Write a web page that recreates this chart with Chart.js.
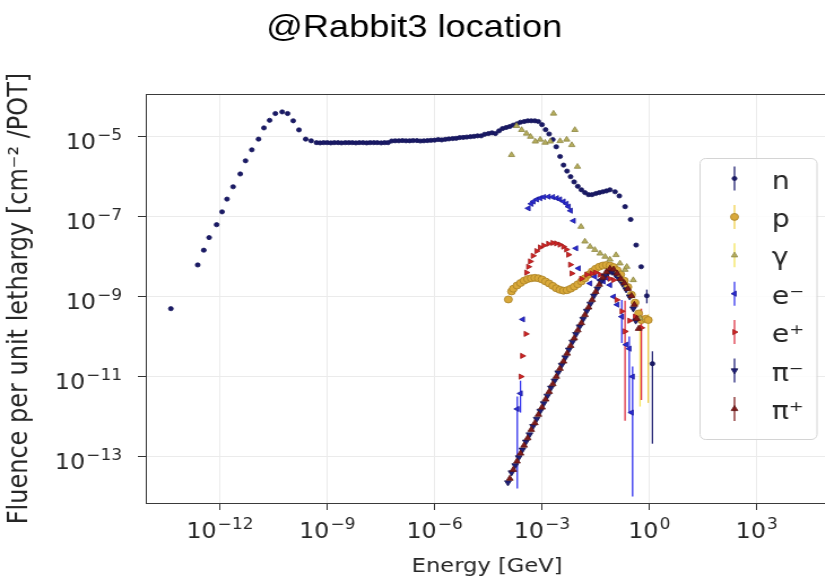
<!DOCTYPE html>
<html>
<head>
<meta charset="utf-8">
<script src="https://cdn.jsdelivr.net/npm/chart.js@4.4.1/dist/chart.umd.min.js"></script>
<style>
  html, body { margin: 0; padding: 0; background: #fff; overflow: hidden; }
  #wrap { width: 825px; height: 587px; overflow: hidden; }
  /* the reference picture is a little wider than tall, so stretch the canvas */
  #chart { transform: scaleX(1.13); transform-origin: 0 0; }
</style>
</head>
<body>
<div id="wrap"><canvas id="chart" width="743" height="587"></canvas></div>
<script>
// tick positions
const xTicks = [1e-12, 1e-9, 1e-6, 1e-3, 1, 1e3];
const yTicks = [1e-13, 1e-11, 1e-9, 1e-7, 1e-5];

const legendLabels = ['n', 'p', 'γ', 'e⁻', 'e⁺', 'π⁻', 'π⁺'];

// neutrons
const nEnergy = [4.27e-14, 2.4e-13, 3.55e-13, 5.0e-13, 8.1e-13, 1.15e-12, 1.58e-12, 2.34e-12, 3.7e-12, 5.2e-12,
  7.8e-12, 1.2e-11, 1.7e-11, 2.45e-11, 3.55e-11, 5.5e-11, 7.8e-11, 1.12e-10, 1.62e-10, 2.5e-10, 3.55e-10,
  5.0e-10, 6.3e-10, 7.9e-10, 1e-9, 1.26e-9, 1.58e-9, 2e-9, 2.5e-9, 3.2e-9, 4e-9, 5e-9, 6.3e-9, 7.9e-9,
  1e-8, 1.26e-8, 1.58e-8, 2e-8, 2.5e-8, 3.2e-8, 4e-8, 5e-8,
  6.3e-8, 7.9e-8, 1e-7, 1.26e-7, 1.58e-7, 2e-7, 2.5e-7, 3.2e-7,
  4e-7, 5e-7, 6.3e-7, 7.9e-7, 1e-6, 1.26e-6, 1.58e-6, 2e-6, 2.5e-6, 3.2e-6, 4e-6, 5e-6, 6.3e-6, 7.9e-6,
  1e-5, 1.26e-5, 1.58e-5, 2e-5, 2.5e-5, 3.2e-5, 4e-5, 5e-5, 6.3e-5, 7.9e-5,
  1e-4, 1.26e-4, 1.58e-4, 2e-4, 2.5e-4, 3.2e-4, 4e-4, 5e-4, 6.3e-4, 7.9e-4,
  1e-3, 1.26e-3, 1.58e-3, 2e-3, 2.5e-3, 3.2e-3, 4e-3, 5e-3, 6.3e-3, 7.9e-3,
  1e-2, 1.26e-2, 1.58e-2, 2e-2, 2.5e-2, 3.2e-2, 4e-2, 5e-2, 6.3e-2, 7.9e-2,
  0.11, 0.145, 0.21, 0.30, 0.427, 0.59, 0.85, 1.22];
const nFluence = [5.0e-10, 6.2e-9, 1.45e-8, 3.0e-8, 6.3e-8, 1.32e-7, 2.75e-7, 5.6e-7, 1.17e-6, 2.5e-6,
  4.7e-6, 8.7e-6, 1.66e-5, 2.57e-5, 3.8e-5, 4.17e-5, 3.8e-5, 2.5e-5, 1.48e-5, 8.7e-6, 7.9e-6,
  7.1e-6, 7.0e-6, 7.1e-6, 7.1e-6, 7.0e-6, 7.1e-6, 7.1e-6, 7.0e-6, 7.1e-6, 7.1e-6, 7.1e-6, 7.0e-6, 7.1e-6,
  7.1e-6, 7.0e-6, 7.1e-6, 7.1e-6, 7.1e-6, 7.0e-6, 7.1e-6, 7.1e-6,
  7.8e-6, 7.9e-6, 7.9e-6, 8.0e-6, 7.9e-6, 7.9e-6, 8.0e-6, 8.0e-6,
  7.8e-6, 7.9e-6, 8.0e-6, 8.1e-6, 8.2e-6, 8.5e-6, 8.3e-6, 8.6e-6, 8.8e-6, 9.0e-6, 9.1e-6, 9.5e-6, 9.6e-6, 9.8e-6,
  1.0e-5, 1.02e-5, 1.05e-5, 1.05e-5, 1.15e-5, 1.2e-5, 1.25e-5, 1.2e-5, 1.4e-5, 1.6e-5,
  1.7e-5, 1.8e-5, 1.95e-5, 2.1e-5, 2.3e-5, 2.4e-5, 2.5e-5, 2.5e-5, 2.5e-5, 2.4e-5,
  2.0e-5, 1.5e-5, 1.17e-5, 8.5e-6, 5.6e-6, 3.2e-6, 1.95e-6, 1.38e-6, 1.0e-6, 7.4e-7,
  5.75e-7, 4.7e-7, 4.0e-7, 3.55e-7, 3.55e-7, 3.8e-7, 4.0e-7, 4.2e-7, 4.4e-7, 4.7e-7,
  4.2e-7, 3.3e-7, 1.78e-7, 8.5e-8, 1.95e-8, 5.6e-9, 1.05e-9, 2.1e-11];
const nBarEnergy = [0.85, 1.22];
const nBarLow = [6.8e-10, 2.1e-13];
const nBarHigh = [1.5e-9, 4.3e-11];

// protons
const pEnergy = [1.15e-4, 1.41e-4, 1.58e-4, 2.0e-4, 2.51e-4, 3.16e-4, 3.98e-4, 5.01e-4, 6.31e-4, 7.94e-4,
  1e-3, 1.26e-3, 1.58e-3, 2.0e-3, 2.51e-3, 3.16e-3, 3.98e-3, 5.01e-3, 6.31e-3, 7.94e-3,
  1e-2, 1.26e-2, 1.58e-2, 2.0e-2, 2.51e-2, 3.16e-2, 3.98e-2, 5.01e-2, 6.31e-2, 7.94e-2,
  0.1, 0.126, 0.158, 0.2, 0.251, 0.316, 0.398, 0.501, 0.60, 0.79, 0.93];
const pFluence = [8.5e-10, 1.35e-9, 1.58e-9, 1.9e-9, 2.19e-9, 2.51e-9, 2.75e-9, 2.88e-9, 2.95e-9, 2.88e-9,
  2.69e-9, 2.4e-9, 2.14e-9, 1.86e-9, 1.62e-9, 1.48e-9, 1.41e-9, 1.45e-9, 1.58e-9, 1.78e-9,
  2.04e-9, 2.4e-9, 2.88e-9, 3.55e-9, 4.27e-9, 5.0e-9, 5.6e-9, 6.0e-9, 6.2e-9, 6.0e-9,
  5.5e-9, 4.6e-9, 3.6e-9, 2.5e-9, 1.74e-9, 1.12e-9, 7.1e-10, 3.8e-10, 2.6e-10, 2.8e-10, 2.6e-10];
const pBarEnergy = [0.93];
const pBarLow = [2.2e-12];
const pBarHigh = [3.6e-10];

// photons
const gEnergy = [1.41e-4, 1.95e-4, 2.7e-4, 3.7e-4, 4.8e-4, 6.5e-4, 8.9e-4, 1.23e-3, 1.7e-3, 2.1e-3,
  3.2e-3, 4.9e-3, 6.8e-3, 8.3e-3, 9.8e-3, 1.23e-2, 1.58e-2, 2.2e-2, 3.0e-2, 4.2e-2,
  5.8e-2, 7.9e-2, 0.117, 0.151, 0.209, 0.234, 0.355, 0.55];
const gFluence = [3.5e-6, 1.86e-5, 1.48e-5, 1.2e-5, 1.0e-5, 7.6e-6, 8.5e-6, 7.1e-6, 7.6e-6, 3.8e-5,
  7.8e-6, 8.5e-6, 6.2e-6, 1.48e-5, 1.78e-6, 5.6e-8, 2.4e-8, 1.78e-8, 1.48e-8, 1.2e-8,
  1.0e-8, 8.5e-9, 1.1e-8, 6.8e-9, 4.7e-9, 5.6e-9, 2.6e-9, 2.9e-10];
const gBarEnergy = [0.55];
const gBarLow = [1.78e-12];
const gBarHigh = [5e-10];

// electrons
const eMinusEnergy = [2.04e-4, 2.51e-4, 2.9e-4, 4.17e-4, 5.0e-4, 5.75e-4, 7.1e-4, 8.9e-4, 1.12e-3, 1.51e-3,
  2.0e-3, 2.57e-3, 3.16e-3, 3.98e-3, 4.8e-3, 5.5e-3, 6.3e-3, 7.6e-3, 8.9e-3, 1.05e-2,
  2.2e-2, 3.0e-2, 4.2e-2, 5.2e-2, 6.5e-2, 7.9e-2, 0.1, 0.126, 0.17, 0.224, 0.275, 0.316, 0.34];
const eMinusFluence = [1.55e-12, 3.8e-12, 2.7e-10, 1.62e-7, 2.1e-7, 2.4e-7, 2.7e-7, 2.9e-7, 3.1e-7, 3.16e-7,
  3.1e-7, 2.9e-7, 2.7e-7, 2.4e-7, 2.1e-7, 1.78e-7, 1.41e-7, 7.9e-8, 1.62e-8, 5.1e-9,
  2.14e-9, 3.16e-9, 2.6e-9, 2.4e-9, 2.9e-9, 1.95e-9, 1.0e-9, 6.3e-10, 3.16e-10, 6.3e-11, 5.0e-11, 1.26e-12, 1.0e-11];
const eMinusBarEnergy = [2.04e-4, 2.51e-4, 0.17, 0.275, 0.34];
const eMinusBarLow = [1.6e-14, 1.26e-12, 6.9e-11, 1.26e-12, 1.0e-14];
const eMinusBarHigh = [3.2e-12, 7.9e-12, 8.3e-10, 1.0e-10, 1.8e-11];

// positrons
const ePlusEnergy = [2.57e-4, 2.82e-4, 3.55e-4, 3.7e-4, 4.17e-4, 4.7e-4, 5.6e-4, 7.1e-4, 8.9e-4, 1.12e-3,
  1.51e-3, 2.0e-3, 2.51e-3, 3.16e-3, 3.98e-3, 4.8e-3, 5.5e-3, 6.2e-3, 6.8e-3, 1.26e-2,
  1.78e-2, 2.45e-2, 3.16e-2, 4.2e-2, 5.6e-2, 7.9e-2, 0.1, 0.123, 0.17, 0.209, 0.28, 0.40, 0.60];
const ePlusFluence = [1.0e-11, 3.3e-11, 1.17e-10, 4.0e-9, 5.6e-9, 7.6e-9, 1.05e-8, 1.38e-8, 1.7e-8, 1.9e-8,
  2.1e-8, 2.2e-8, 2.14e-8, 2.0e-8, 1.78e-8, 1.51e-8, 1.12e-8, 6.3e-9, 3.8e-9, 2.8e-9,
  3.55e-9, 3.8e-9, 4.0e-9, 3.55e-9, 3.16e-9, 2.8e-9, 2.6e-9, 8.3e-10, 4.3e-10, 1.35e-10, 2.5e-10, 3.16e-10, 1.66e-10];
const ePlusBarEnergy = [0.209, 0.60];
const ePlusBarLow = [7.9e-13, 2.6e-12];
const ePlusBarHigh = [7.9e-10, 5e-10];

// negative pions
const piMinusEnergy = [1.12e-4, 1.41e-4, 1.78e-4, 2.24e-4, 2.82e-4, 3.55e-4, 4.47e-4, 5.62e-4, 7.08e-4, 8.91e-4,
  1.12e-3, 1.41e-3, 1.78e-3, 2.24e-3, 2.82e-3, 3.55e-3, 4.47e-3, 5.62e-3, 7.08e-3, 8.91e-3,
  1.12e-2, 1.41e-2, 1.78e-2, 2.24e-2, 2.82e-2, 3.55e-2, 4.47e-2, 5.62e-2, 7.08e-2, 8.91e-2,
  0.112, 0.141, 0.178, 0.224, 0.282, 0.355, 0.417];
const piMinusFluence = [2.24e-14, 3.98e-14, 6.0e-14, 9.5e-14, 1.48e-13, 2.34e-13, 3.55e-13, 5.75e-13, 8.7e-13, 1.38e-12,
  2.14e-12, 3.3e-12, 5.25e-12, 7.9e-12, 1.26e-11, 1.95e-11, 3.0e-11, 4.7e-11, 7.4e-11, 1.15e-10,
  1.78e-10, 2.75e-10, 4.37e-10, 6.6e-10, 1.05e-9, 1.58e-9, 2.4e-9, 3.3e-9, 4.0e-9, 4.17e-9,
  3.55e-9, 2.8e-9, 2.1e-9, 1.51e-9, 1.0e-9, 5.0e-10, 2.5e-10];

// positive pions
const piPlusEnergy = [1.26e-4, 1.58e-4, 2.0e-4, 2.51e-4, 3.16e-4, 3.98e-4, 5.01e-4, 6.31e-4, 7.94e-4, 1e-3,
  1.26e-3, 1.58e-3, 2.0e-3, 2.51e-3, 3.16e-3, 3.98e-3, 5.01e-3, 6.31e-3, 7.94e-3, 1e-2,
  1.26e-2, 1.58e-2, 2.0e-2, 2.51e-2, 3.16e-2, 3.98e-2, 5.01e-2, 6.31e-2, 7.94e-2, 0.1,
  0.126, 0.158, 0.2, 0.251, 0.316, 0.38, 0.447, 0.501];
const piPlusFluence = [2.82e-14, 4.7e-14, 7.6e-14, 1.2e-13, 1.9e-13, 2.9e-13, 4.7e-13, 6.9e-13, 1.12e-12, 1.7e-12,
  2.7e-12, 4.17e-12, 6.5e-12, 1.0e-11, 1.58e-11, 2.4e-11, 3.8e-11, 5.9e-11, 9.1e-11, 1.45e-10,
  2.19e-10, 3.5e-10, 5.4e-10, 8.3e-10, 1.32e-9, 2.0e-9, 3.0e-9, 4.17e-9, 5.0e-9, 4.8e-9,
  3.8e-9, 2.8e-9, 2.19e-9, 1.58e-9, 1.05e-9, 6.3e-10, 2.8e-10, 1.58e-10];

function exponentText(v) {
  const exp = Math.round(Math.log10(v));
  return String(exp).replace('-', '\u2212');
}

function points(xs, ys) {
  return xs.map((x, i) => ({ x: x, y: ys[i] }));
}

function series(label, xs, ys, style, fill, edge, radius, rotation, order) {
  return {
    label: label,
    data: points(xs, ys),
    showLine: false,
    pointStyle: style,
    pointRadius: radius,
    pointHoverRadius: radius,
    pointRotation: rotation,
    pointBackgroundColor: fill,
    pointBorderColor: edge,
    pointBorderWidth: 0.8,
    order: order
  };
}

const datasets = [
  series('n', nEnergy, nFluence, 'circle', '#1a1a66', '#14145a', 2.1, 0, 7),
  series('p', pEnergy, pFluence, 'circle', '#d9a93a', '#a88024', 3.5, 0, 6),
  series('γ', gEnergy, gFluence, 'triangle', '#b6ad5e', '#8d8742', 3.2, 0, 5),
  series('e⁻', eMinusEnergy, eMinusFluence, 'triangle', '#2b2bd1', '#1b1b9c', 3, 270, 4),
  series('e⁺', ePlusEnergy, ePlusFluence, 'triangle', '#d02525', '#a01a1a', 3, 90, 3),
  series('π⁻', piMinusEnergy, piMinusFluence, 'triangle', '#1f1f78', '#12124f', 3.4, 180, 2),
  series('π⁺', piPlusEnergy, piPlusFluence, 'triangle', '#7f1b1b', '#5c1111', 3.4, 0, 1)
];

const barColors = ['#1c1c6e', '#f0cf4a', '#f3e35a', '#3434ee', '#dd3344', '#1f1f78', '#7f1b1b'];

const errorBars = [
  { color: barColors[0], e: nBarEnergy, lo: nBarLow, hi: nBarHigh },
  { color: barColors[1], e: pBarEnergy, lo: pBarLow, hi: pBarHigh },
  { color: barColors[2], e: gBarEnergy, lo: gBarLow, hi: gBarHigh },
  { color: barColors[3], e: eMinusBarEnergy, lo: eMinusBarLow, hi: eMinusBarHigh },
  { color: barColors[4], e: ePlusBarEnergy, lo: ePlusBarLow, hi: ePlusBarHigh }
];

const errorBarPlugin = {
  id: 'errorBars',
  beforeDatasetsDraw(chart) {
    const { ctx, chartArea, scales: { x, y } } = chart;
    ctx.save();
    ctx.beginPath();
    ctx.rect(chartArea.left, chartArea.top, chartArea.right - chartArea.left, chartArea.bottom - chartArea.top);
    ctx.clip();
    ctx.lineWidth = 1.3;
    errorBars.forEach(b => {
      ctx.strokeStyle = b.color;
      b.e.forEach((e, i) => {
        const px = x.getPixelForValue(e);
        ctx.beginPath();
        ctx.moveTo(px, y.getPixelForValue(b.lo[i]));
        ctx.lineTo(px, y.getPixelForValue(b.hi[i]));
        ctx.stroke();
      });
    });
    ctx.restore();
  }
};

const framePlugin = {
  id: 'frame',
  afterDatasetsDraw(chart) {
    const { ctx, chartArea: a } = chart;
    ctx.save();
    ctx.strokeStyle = '#3a3a3a';
    ctx.lineWidth = 1;
    ctx.strokeRect(Math.round(a.left) + 0.5, Math.round(a.top) + 0.5, a.right - a.left, a.bottom - a.top);
    ctx.restore();
  }
};

// "10" with a raised exponent, like matplotlib's mathtext tick labels
const baseFont = '21px "DejaVu Sans"';
const expFont = '15px "DejaVu Sans"';
function drawPower(ctx, v, x, baseline, align) {
  const exp = exponentText(v);
  ctx.font = baseFont;
  const wb = ctx.measureText('10').width;
  ctx.font = expFont;
  const we = ctx.measureText(exp).width;
  const total = wb + we + 1;
  let left = align === 'center' ? x - total / 2 : x - total;
  ctx.font = baseFont;
  ctx.fillText('10', left, baseline);
  ctx.font = expFont;
  ctx.fillText(exp, left + wb + 1, baseline - 9);
}

const tickLabelPlugin = {
  id: 'powerTicks',
  afterDraw(chart) {
    const { ctx, scales: { x, y } } = chart;
    ctx.save();
    ctx.fillStyle = '#262626';
    ctx.textAlign = 'left';
    ctx.textBaseline = 'alphabetic';
    xTicks.forEach(v => drawPower(ctx, v, x.getPixelForValue(v), 538, 'center'));
    yTicks.forEach(v => drawPower(ctx, v, 108, y.getPixelForValue(v) + 12.5, 'right'));
    ctx.restore();
  }
};

const legendPlugin = {
  id: 'boxLegend',
  afterDraw(chart) {
    const ctx = chart.ctx;
    ctx.save();
    ctx.fillStyle = 'rgba(255,255,255,0.85)';
    ctx.strokeStyle = '#d4d4d4';
    ctx.lineWidth = 1;
    ctx.beginPath();
    ctx.roundRect(619.5, 158.5, 103.5, 281, 5);
    ctx.fill();
    ctx.stroke();
    legendLabels.forEach((label, i) => {
      const ds = chart.data.datasets[i];
      const cy = 178.5 + i * 38.4;
      const mx = 650;
      ctx.strokeStyle = barColors[i];
      ctx.lineWidth = 1.3;
      ctx.beginPath();
      ctx.moveTo(mx, cy - 12);
      ctx.lineTo(mx, cy + 12);
      ctx.stroke();
      ctx.fillStyle = ds.pointBackgroundColor;
      ctx.strokeStyle = ds.pointBorderColor;
      ctx.lineWidth = 0.8;
      Chart.helpers.drawPoint(ctx, {
        pointStyle: ds.pointStyle,
        rotation: ds.pointRotation,
        radius: ds.pointRadius,
        borderWidth: 0.8
      }, mx, cy);
      ctx.fillStyle = '#262626';
      ctx.font = '25px "DejaVu Sans"';
      ctx.textAlign = 'left';
      ctx.textBaseline = 'alphabetic';
      ctx.fillText(label, 683, 188.5 + i * 38.4);
    });
    ctx.restore();
  }
};

new Chart(document.getElementById('chart'), {
  type: 'scatter',
  data: { datasets: datasets },
  options: {
    responsive: false,
    animation: false,
    devicePixelRatio: 1,
    layout: { padding: { left: 0, right: 10, top: 0, bottom: 0 } },
    plugins: {
      legend: { display: false },
      tooltip: { enabled: false },
      title: {
        display: true,
        text: '@Rabbit3 location',
        color: '#000',
        font: { family: '"Liberation Sans", Arial, sans-serif', size: 32, weight: 'normal' },
        padding: { top: 9, bottom: 46.6 }
      }
    },
    scales: {
      x: {
        type: 'logarithmic',
        min: 8.5e-15,
        max: 1e5,
        afterBuildTicks: s => { s.ticks = xTicks.map(v => ({ value: v })); },
        afterFit: s => { s.height = 84; },
        border: { display: false },
        grid: { color: '#ebebeb', tickColor: '#333', tickLength: 7, lineWidth: 1 },
        ticks: { display: false },
        title: {
          display: true,
          text: 'Energy [GeV]',
          color: '#262626',
          font: { family: '"DejaVu Sans", sans-serif', size: 20 },
          padding: { top: 0, bottom: 8 }
        }
      },
      y: {
        type: 'logarithmic',
        min: 6.9e-15,
        max: 1.17e-4,
        afterBuildTicks: s => { s.ticks = yTicks.map(v => ({ value: v })); },
        afterFit: s => { s.width = 129; },
        border: { display: false },
        grid: { color: '#ebebeb', tickColor: '#333', tickLength: 7, lineWidth: 1 },
        ticks: { display: false },
        title: {
          display: true,
          text: 'Fluence per unit lethargy [cm⁻² /POT]',
          color: '#262626',
          font: { family: '"DejaVu Sans", sans-serif', size: 24 },
          padding: { top: 3, bottom: 0 }
        }
      }
    }
  },
  plugins: [errorBarPlugin, framePlugin, tickLabelPlugin, legendPlugin]
});
</script>
</body>
</html>
